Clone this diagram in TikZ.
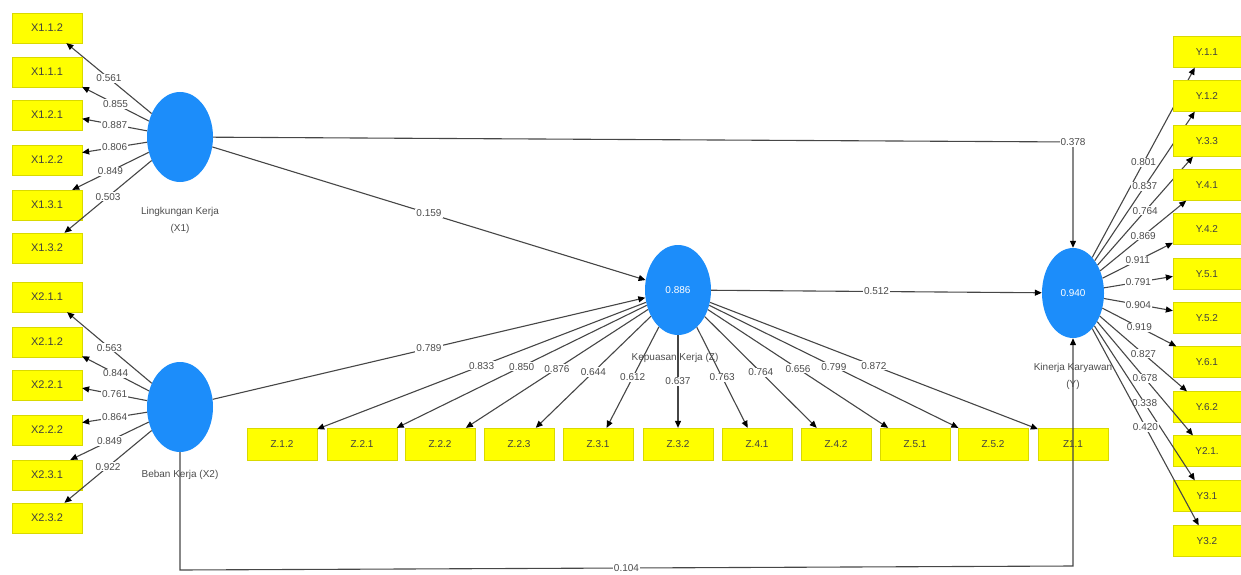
\documentclass[tikz,border=0pt]{standalone}
\usepackage{fontspec}
\setmainfont{Liberation Sans}
\usetikzlibrary{shapes}
\usetikzlibrary{arrows.meta}

\definecolor{plsblue}{RGB}{28,141,250}
\definecolor{plsyellow}{RGB}{255,255,0}
\definecolor{plsline}{RGB}{70,70,70}

\begin{document}
\begin{tikzpicture}[
        x = 1pt, y = -1pt,
        indicator/.style = {draw = plsyellow!85!black, line width = 0.3pt, rectangle, fill = plsyellow,
                            minimum width = 70pt, minimum height = 30pt, inner sep = 0pt,
                            font = \fontsize{10}{12}\selectfont, text = black!75},
        latent/.style = {ellipse, fill = plsblue, minimum width = 66pt, minimum height = 90pt,
                         inner sep = 0pt, text = white, font = \fontsize{10}{12}\selectfont},
        latentname/.style = {align = center, font = \fontsize{10}{17}\selectfont, text = black!70},
        link/.style = {draw = plsline, line width = 1.1pt,
                       -{Triangle[length = 7pt, width = 6pt, color = black]}},
        coef/.style = {fill = white, inner sep = 1pt, font = \fontsize{10}{12}\selectfont, text = black!70},
        ]
    \useasboundingbox (0,0) rectangle (1241,575);

    % constructs
    \node[latent] (lk) at (180,137) {};
    \node[latent] (bk) at (180,407) {};
    \node[latent] (kk) at (678,290) {0.886};
    \node[latent, minimum width = 62pt] (kin) at (1073,293) {0.940};

    \node[latentname] (lkname) at (180,220) {Lingkungan Kerja\\(X1)};
    \node[latentname] (bkname) at (180,475) {Beban Kerja (X2)};
    \node[latentname] (kkname) at (675,358) {Kepuasan Kerja (Z)};
    \node[latentname] (kinname) at (1073,376) {Kinerja Karyawan\\(Y)};

    % indicators of X1
    \foreach \n/\t/\yy/\ang/\v in {x112/X1.1.2/28/322/0.561, x111/X1.1.1/72/337/0.855,
                                   x121/X1.2.1/115/354/0.887, x122/X1.2.2/160/12/0.806,
                                   x131/X1.3.1/205/31/0.849, x132/X1.3.2/248/41/0.503}
    {
        \node[indicator, font = \fontsize{11}{13}\selectfont] (\n) at (47,\yy) {\t};
        \draw[link] (lk) -- node[coef] {\v} (\n.\ang);
    }

    % indicators of X2
    \foreach \n/\t/\yy/\ang/\v in {x211/X2.1.1/297/323/0.563, x212/X2.1.2/342/338/0.844,
                                   x221/X2.2.1/385/355/0.761, x222/X2.2.2/430/12/0.864,
                                   x231/X2.3.1/475/33/0.849, x232/X2.3.2/518/41/0.922}
    {
        \node[indicator, font = \fontsize{11}{13}\selectfont] (\n) at (47,\yy) {\t};
        \draw[link] (bk) -- node[coef] {\v} (\n.\ang);
    }

    % indicators of Z
    \foreach \n/\t/\xx/\ang/\v in {z12/Z.1.2/282/23/0.833, z21/Z.2.1/362/25/0.850,
                                   z22/Z.2.2/440/32/0.876, z23/Z.2.3/519/44/0.644,
                                   z31/Z.3.1/598/62/0.612, z32/Z.3.2/678/90/0.637,
                                   z41/Z.4.1/757/120/0.763, z42/Z.4.2/836/140/0.764,
                                   z51/Z.5.1/915/149/0.656, z52/Z.5.2/993/155/0.799,
                                   z11/Z1.1/1073/157/0.872}
    {
        \node[indicator, minimum height = 32pt] (\n) at (\xx,444) {\t};
        \draw[link] (kk) -- node[coef] {\v} (\n.\ang);
    }

    % indicators of Y
    \foreach \n/\t/\yy/\ang/\v in {y11/Y.1.1/52/232/0.801, y12/Y.1.2/96/232/0.837,
                                   y33/Y.3.3/141/228/0.764, y41/Y.4.1/185/217/0.869,
                                   y42/Y.4.2/229/202/0.911, y51/Y.5.1/274/184/0.791,
                                   y52/Y.5.2/318/168/0.904, y61/Y.6.1/362/153/0.919,
                                   y62/Y.6.2/407/142/0.827, y21/Y2.1./451/132/0.678,
                                   y31/Y3.1/496/128/0.338, y32/Y3.2/541/118/0.420}
    {
        \node[indicator, minimum width = 68pt, minimum height = 31pt] (\n) at (1207,\yy) {\t};
        \draw[link] (kin) -- node[coef] {\v} (\n.\ang);
    }

    % structural paths
    \draw[link] (lk) -- node[coef] {0.159} (kk);
    \draw[link] (bk) -- node[coef] {0.789} (kk);
    \draw[link] (kk) -- node[coef] {0.512} (kin);

    \coordinate (bendtop) at (1073,142);
    \draw[link] (lk) -- (bendtop) node[coef] {0.378} -- (kin);

    \coordinate (lowleft) at (180,570);
    \coordinate (lowright) at (1073,566);
    \draw[link] (bk) -- (lowleft) -- node[coef] {0.104} (lowright) -- (kin);
\end{tikzpicture}
\end{document}
